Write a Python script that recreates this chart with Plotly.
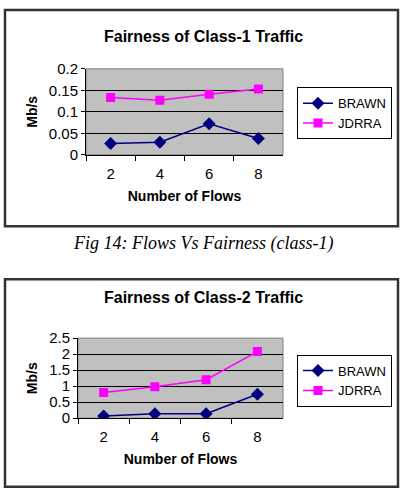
import plotly.graph_objects as go

flows = ["2", "4", "6", "8"]
c1_brawn = [0.026, 0.029, 0.072, 0.038]
c1_jdrra = [0.133, 0.127, 0.141, 0.153]
c2_brawn = [0.07, 0.14, 0.14, 0.75]
c2_jdrra = [0.80, 0.98, 1.20, 2.08]

title1 = "Fairness of Class-1 Traffic"
title2 = "Fairness of Class-2 Traffic"
caption1 = "Fig 14: Flows Vs Fairness (class-1)"
xtitle = "Number of Flows"
ytitle = "Mb/s"

W, H = 402, 488
NAVY = "#000080"
MAG = "#FF00FF"
FONT = "Liberation Sans"

def px(x):
    return x / W

def py(y):
    return 1 - y / H

fig = go.Figure()

def add_series(xa, ya, brawn, jdrra, legend):
    fig.add_trace(go.Scatter(x=flows, y=brawn, name="BRAWN", mode="lines+markers",
                             xaxis=xa, yaxis=ya, legend=legend,
                             line=dict(color=NAVY, width=1.5),
                             marker=dict(symbol="diamond", size=10, color=NAVY)))
    fig.add_trace(go.Scatter(x=flows, y=jdrra, name="JDRRA", mode="lines+markers",
                             xaxis=xa, yaxis=ya, legend=legend,
                             line=dict(color=MAG, width=1.5),
                             marker=dict(symbol="square", size=9, color=MAG)))

add_series("x", "y", c1_brawn, c1_jdrra, "legend")
add_series("x2", "y2", c2_brawn, c2_jdrra, "legend2")

tickfont = dict(family=FONT, size=15, color="black")
titlefont = dict(family=FONT, size=14, color="black", weight="bold")

def xaxis(domain, anchor, standoff):
    return dict(domain=domain, anchor=anchor, type="category", range=[-0.5, 3.5],
                showline=True, linecolor="black", linewidth=1,
                ticks="outside", tickson="boundaries", ticklen=5, tickcolor="black",
                showgrid=False, tickfont=tickfont, ticklabelstandoff=5,
                title=dict(text=xtitle, font=titlefont, standoff=standoff),
                fixedrange=True)

def yaxis(domain, anchor, rng, dtick, standoff):
    return dict(domain=domain, anchor=anchor, range=rng, dtick=dtick,
                showline=True, linecolor="black", linewidth=1,
                ticks="outside", ticklen=4, tickcolor="black",
                showgrid=True, gridcolor="black", gridwidth=1, zeroline=False,
                tickfont=tickfont,
                title=dict(text=ytitle, font=titlefont, standoff=standoff),
                fixedrange=True)

legend_common = dict(xanchor="left", yanchor="top", bgcolor="white",
                     bordercolor="black", borderwidth=1,
                     font=dict(family=FONT, size=13, color="black"),
                     tracegroupgap=0, itemwidth=30)

fig.update_layout(
    width=W, height=H, margin=dict(l=0, r=0, t=0, b=0),
    paper_bgcolor="white", plot_bgcolor="#C0C0C0",
    xaxis=xaxis([px(86), px(283)], "y", 10),
    yaxis=yaxis([py(151), py(62)], "x", [0, 0.2], 0.05, 7),
    xaxis2=xaxis([px(78), px(283)], "y2", 9),
    yaxis2=yaxis([py(424), py(341)], "x2", [0, 2.5], 0.5, 8),
    legend=dict(x=px(297), y=py(81), **legend_common),
    legend2=dict(x=px(297), y=py(358), **legend_common),
    showlegend=True,
)

shapes = [
    dict(type="rect", xref="paper", yref="paper", x0=px(5), x1=px(398), y0=py(225), y1=py(1),
         line=dict(color="#333333", width=2.5)),
    dict(type="rect", xref="paper", yref="paper", x0=px(5), x1=px(398), y0=py(495), y1=py(280),
         line=dict(color="#333333", width=2.5)),
    dict(type="rect", xref="x domain", yref="y domain", x0=0, x1=1, y0=0, y1=1,
         line=dict(color="#808080", width=1), layer="below"),
    dict(type="rect", xref="x2 domain", yref="y2 domain", x0=0, x1=1, y0=0, y1=1,
         line=dict(color="#808080", width=1), layer="below"),
]
fig.update_layout(shapes=shapes)

ann = [
    dict(text=title1, x=px(203), y=py(18), xref="paper", yref="paper", showarrow=False,
         font=dict(family=FONT, size=16, color="black", weight="bold")),
    dict(text=title2, x=px(203), y=py(299), xref="paper", yref="paper", showarrow=False,
         font=dict(family=FONT, size=16, color="black", weight="bold")),
    dict(text=caption1, x=px(203), y=py(243), xref="paper", yref="paper", showarrow=False,
         font=dict(family="Liberation Serif", size=18, color="black", style="italic")),
]
fig.update_layout(annotations=ann)

fig.write_html("out.html")
